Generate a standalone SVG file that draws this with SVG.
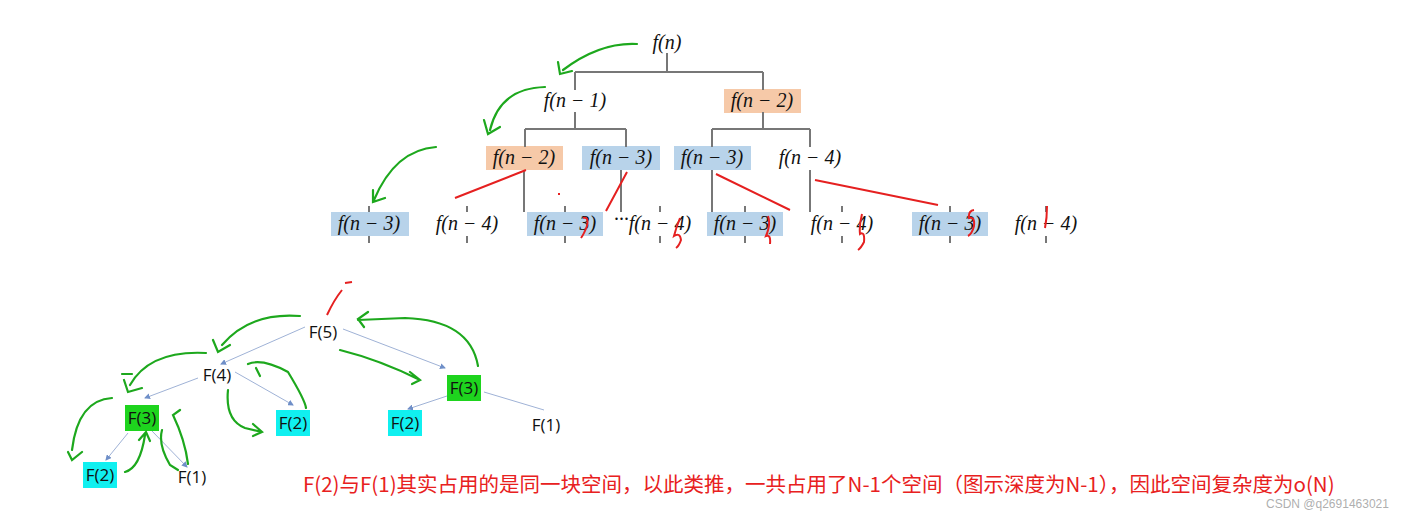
<svg xmlns="http://www.w3.org/2000/svg" width="1411" height="511" viewBox="0 0 1411 511">
<defs>
<style>
.m{font-family:"Liberation Serif",serif;font-style:italic;font-size:20px;fill:#111;text-anchor:middle}
.t{font-family:"Open Sans","Liberation Sans",sans-serif;font-size:17px;fill:#111;text-anchor:middle}
.gl{stroke:#777;stroke-width:2;fill:none}
.bl{stroke:#9fb2d6;stroke-width:1;fill:none}
.rd{stroke:#e52020;stroke-width:2;fill:none}
.gr{stroke:#1da81d;stroke-width:2.2;fill:none;stroke-linecap:round}
.ob{fill:#f6c9a8}.bb{fill:#b8d3ea}.gb{fill:#1ed41e}.cb{fill:#10f0f0}
</style>
<marker id="a" markerWidth="6" markerHeight="6" refX="5" refY="3" orient="auto"><path d="M0,0L6,3L0,6z" fill="#6f8fc8"/></marker>
</defs>
<rect width="1411" height="511" fill="#fff"/>
<g id="nodes">
<g id="fn"><text class="m" x="667" y="49">f(n)</text></g>
<g id="fn1"><text class="m" x="575" y="107">f(n − 1)</text></g>
<g id="fn2"><rect class="ob" x="724" y="89" width="77" height="24"/><text class="m" x="762" y="107">f(n − 2)</text></g>
<g id="l2a"><rect class="ob" x="486" y="146" width="77" height="24"/><text class="m" x="524" y="164">f(n − 2)</text></g>
<g id="l2b"><rect class="bb" x="582" y="146" width="78" height="24"/><text class="m" x="621" y="164">f(n − 3)</text></g>
<g id="l2c"><rect class="bb" x="674" y="146" width="77" height="24"/><text class="m" x="712" y="164">f(n − 3)</text></g>
<g id="l2d"><text class="m" x="810" y="164">f(n − 4)</text></g>
<g id="l3a"><rect class="bb" x="331" y="212" width="78" height="24"/><text class="m" x="369" y="230">f(n − 3)</text></g>
<g id="l3b"><text class="m" x="467" y="230">f(n − 4)</text></g>
<g id="l3c"><rect class="bb" x="527" y="212" width="76" height="24"/><text class="m" x="565" y="230">f(n − 3)</text></g>
<g id="l3d"><text class="m" x="660" y="230">f(n − 4)</text><text class="m" x="622" y="220" font-size="14">...</text></g>
<g id="l3e"><rect class="bb" x="707" y="212" width="76" height="24"/><text class="m" x="745" y="230">f(n − 3)</text></g>
<g id="l3f"><text class="m" x="842" y="230">f(n − 4)</text></g>
<g id="l3g"><rect class="bb" x="912" y="212" width="76" height="24"/><text class="m" x="950" y="230">f(n − 3)</text></g>
<g id="l3h"><text class="m" x="1046" y="230">f(n − 4)</text></g>
<g id="F5"><text class="t" x="323" y="338">F(5)</text></g>
<g id="F4"><text class="t" x="217" y="381">F(4)</text></g>
<g id="F3a"><rect class="gb" x="125" y="405" width="34" height="26"/><text class="t" x="142" y="424">F(3)</text></g>
<g id="F2a"><rect class="cb" x="83" y="462" width="34" height="26"/><text class="t" x="100" y="481">F(2)</text></g>
<g id="F1a"><text class="t" x="192" y="483">F(1)</text></g>
<g id="F2b"><rect class="cb" x="276" y="410" width="34" height="26"/><text class="t" x="293" y="429">F(2)</text></g>
<g id="F3b"><rect class="gb" x="447" y="375" width="34" height="26"/><text class="t" x="464" y="394">F(3)</text></g>
<g id="F2c"><rect class="cb" x="388" y="410" width="34" height="26"/><text class="t" x="405" y="429">F(2)</text></g>
<g id="F1b"><text class="t" x="546" y="431">F(1)</text></g>
</g>
<g id="connectors">
<path class="gl" d="M667,53V72M575,72H763M575,72V90M763,72V90M575,112V129M525,129H626M525,129V147M626,129V147M763,112V129M712,129H810M712,129V147M810,129V147"/>
<path class="gl" d="M524,170V212M621,170V212M712,170V212M810,170V212"/>
<path class="gl" stroke-width="1" d="M369,206V212M369,236V243M467,206V212M467,236V243M565,206V212M565,236V243M660,206V212M660,236V243M745,206V212M745,236V243M842,206V212M842,236V243M950,206V212M950,236V243M1046,206V212M1046,236V243"/>
<path class="bl" marker-end="url(#a)" d="M305,327L221,364"/>
<path class="bl" marker-end="url(#a)" d="M343,329L445,368"/>
<path class="bl" marker-end="url(#a)" d="M198,378L145,398"/>
<path class="bl" marker-end="url(#a)" d="M235,372L293,405"/>
<path class="bl" marker-end="url(#a)" d="M128,433L106,460"/>
<path class="bl" marker-end="url(#a)" d="M152,431L187,467"/>
<path class="bl" marker-end="url(#a)" d="M447,396L408,409"/>
<path class="bl" d="M484,392L544,410"/>
<path class="rd" d="M455,198L526,170M606,211L627,172M716,174L790,210M815,180L938,205M345,283L352,282M327,315Q334,300 342,290"/>
<path class="rd" d="M558,194l2,0M583,218q6,-2 4,8q-3,8 -6,12M680,218q-4,10 -6,18q6,-4 7,4q-2,6 -5,8M768,216q3,8 -2,20q5,-2 4,8M862,214q-3,12 -2,20q5,-3 4,8q-3,6 -6,8M974,210q-6,1 -5,8q6,-2 5,8q-2,8 -6,10M1047,206q0,12 -2,22"/>
<path class="gr" d="M637,44Q600,42 563,70M558,62L560,74L572,71M545,87Q500,88 490,130M484,120L488,134L500,127M436,147Q395,150 374,200M373,190L373,202L385,198"/>
<path class="gr" d="M300,316Q250,312 222,345M213,340L218,352L230,345M206,353Q150,350 130,385M124,380L128,392L142,388M112,398Q78,400 72,450M68,452L72,460L82,452M132,374l-10,0"/>
<path class="gr" d="M125,472Q140,468 145,435M139,440L146,432L150,441M188,464Q185,440 173,415L180,410M162,430Q158,445 170,465L178,470M248,364Q262,358 288,372Q305,400 306,408M256,368l4,8M228,390Q225,420 245,428L262,432M253,424l9,8l-9,4M340,350Q380,360 420,380M410,372l10,8l-8,4M478,366Q470,320 405,318L358,320M368,312l-10,7l6,8"/>
</g>
<text x="303" y="492" font-family="'Microsoft YaHei','Noto Sans CJK SC',sans-serif" font-size="20.5" fill="#e82020">F(2)与F(1)其实占用的是同一块空间，以此类推，一共占用了N-1个空间（图示深度为N-1），因此空间复杂度为o(N)</text>
<text x="1266" y="508" font-family="'Liberation Sans',sans-serif" font-size="12" fill="#999" fill-opacity="0.8">CSDN @q2691463021</text>
</svg>
